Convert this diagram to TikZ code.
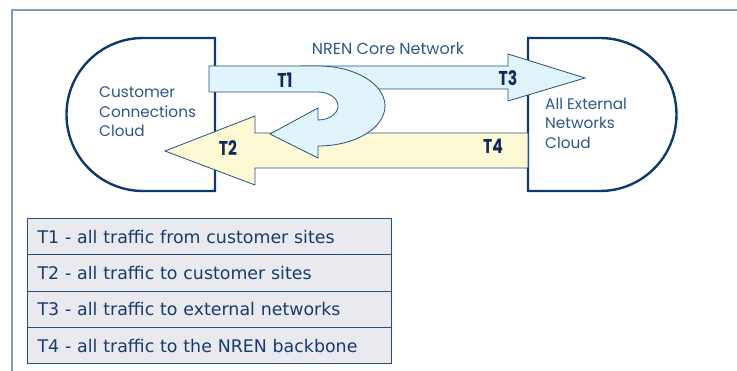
\documentclass[tikz,border=0pt]{standalone}
\usepackage{fontspec}
\setmainfont{DejaVu Sans}
\newfontfamily\geofont{Poppins}
\newfontfamily\tagfont{Poppins}[FakeStretch=0.78]
\usetikzlibrary{matrix,positioning}
\definecolor{framecol}{HTML}{7D9CBF}
\definecolor{cloudline}{HTML}{0D3A6B}
\definecolor{arrowline}{HTML}{24507F}
\definecolor{inblue}{HTML}{E1F3FB}
\definecolor{outyellow}{HTML}{FDF9D5}
\definecolor{softnavy}{HTML}{2F5687}
\definecolor{tagtext}{HTML}{0F2B5B}
\definecolor{legendgray}{HTML}{E9E9EE}
\definecolor{legendtext}{HTML}{163B6F}
\tikzset{
  cloud/.style={draw=cloudline,line width=2.4pt,fill=white},
  inflow/.style={draw=arrowline,line width=0.8pt,fill=inblue},
  outflow/.style={draw=arrowline,line width=0.8pt,fill=outyellow},
  tag/.style={font=\tagfont\bfseries\fontsize{20}{20}\selectfont,text=tagtext,inner sep=0pt},
  cloudtext/.style={font=\geofont\fontsize{15.3}{19.5}\selectfont,text=softnavy,align=left,anchor=west,inner sep=0pt},
  legendrow/.style={draw=arrowline,line width=0.8pt,fill=legendgray,text=legendtext,
    minimum height=36.3pt,text width=344pt,inner xsep=10pt,align=left,
    font=\fontsize{17.4}{19}\selectfont}
}
\begin{document}
\begin{tikzpicture}[x=1pt,y=-1pt]
  \useasboundingbox (0,0) rectangle (737,371);
  \draw[framecol,line width=1.5pt] (12,371) -- (12,10) -- (737,10);
  % clouds
  \path[cloud] (215,38) -- (143,38) arc[start angle=-90,end angle=-270,radius=76.5] -- (215,191) -- cycle;
  \path[cloud] (528,38) -- (600,38) arc[start angle=-90,end angle=90,radius=76.5] -- (528,191) -- cycle;
  \node[cloudtext] (custcloud) at (99,112) {Customer\\Connections\\Cloud};
  \node[cloudtext] (extcloud) at (545,123) {All External\\Networks\\Cloud};
  \node[font=\geofont\fontsize{16}{16}\selectfont,text=softnavy] (core) at (388,49) {NREN Core Network};
  % traffic flows
  \path[inflow] (300,66) -- (508,66) -- (508,54) -- (585,78) -- (508,101) -- (508,89) -- (300,89) -- cycle;
  \path[outflow] (528,133) -- (255,133) -- (255,116) -- (165,151) -- (255,185) -- (255,168) -- (528,168) -- cycle;
  \path[inflow] (209,66) -- (318,66) arc[start angle=-90,end angle=90,x radius=67,y radius=40]
    -- (318,158) -- (270,134) -- (318,108) -- (318,120)
    arc[start angle=90,end angle=-90,x radius=20,y radius=14] -- (209,92) -- cycle;
  \node[tag] (t1) at (285,80) {T1};
  \node[tag] (t2) at (228,148) {T2};
  \node[tag] (t3) at (508,78) {T3};
  \node[tag] (t4) at (493,146) {T4};
  % legend
  \matrix (legend) [matrix of nodes, nodes={legendrow}, row sep=-0.8pt, inner sep=0pt, anchor=north west] at (27,218)
  {
    T1 - all traffic from customer sites \\
    T2 - all traffic to customer sites \\
    T3 - all traffic to external networks \\
    T4 - all traffic to the NREN backbone \\
  };
\end{tikzpicture}
\end{document}
